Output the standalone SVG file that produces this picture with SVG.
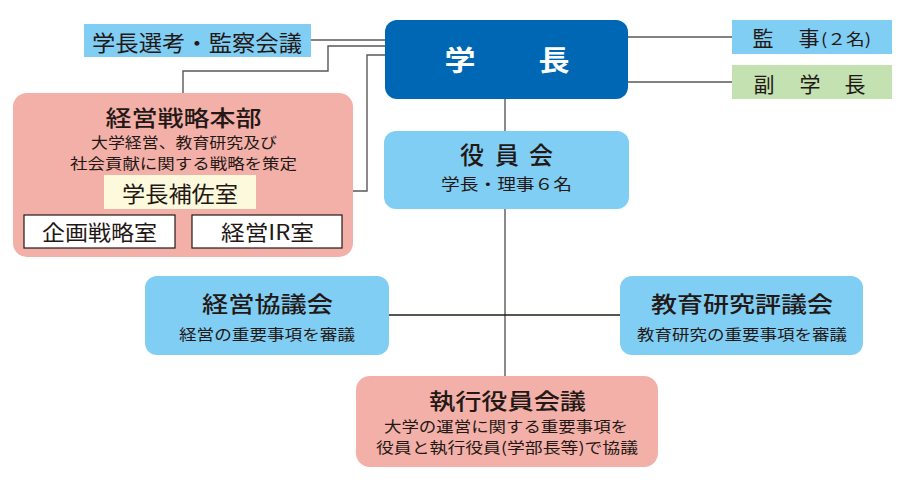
<svg xmlns="http://www.w3.org/2000/svg" width="918" height="486" viewBox="0 0 918 486">
<style>
text{font-family:"Noto Sans CJK JP","Noto Sans CJK SC",sans-serif;fill:#231815;text-anchor:middle}
.t{font-size:22px;font-weight:500}
.s{font-size:15px}
.c{fill:none;stroke:#5a5757;stroke-width:1.4}
.blue{fill:#80cef3}
.pink{fill:#f3b0a8}
.w{fill:#fff;font-size:28px;font-weight:700}
</style>
<g id="connectors">
<path class="c" d="M311,40 H385"/>
<path class="c" d="M385,46 H328 V71 H183 V93"/>
<path class="c" d="M385,55 H367 V191 H256"/>
<path class="c" d="M628,37 H732"/>
<path class="c" d="M628,82 H732"/>
<path class="c" d="M505,98 V376"/>
<path class="c" d="M389,315 H620" style="stroke:#231815"/>
</g>
<g id="president">
<rect x="385" y="20" width="243" height="79" rx="12" fill="#0067b5"/>
<text x="460" y="71" class="w" textLength="31" lengthAdjust="spacingAndGlyphs">学</text>
<text x="554" y="71" class="w" textLength="31" lengthAdjust="spacingAndGlyphs">長</text>
</g>
<g id="selection">
<rect x="84" y="24" width="227" height="33" class="blue"/>
<text x="197" y="51" style="font-size:22px" textLength="210" lengthAdjust="spacingAndGlyphs">学長選考・監察会議</text>
</g>
<g id="auditor">
<rect x="732" y="20" width="160" height="34" class="blue"/>
<text x="763" y="46" style="font-size:21px">監</text>
<text x="809" y="46" style="font-size:21px">事</text>
<text x="821" y="45" style="font-size:16px;text-anchor:start" textLength="50" lengthAdjust="spacingAndGlyphs">(２名)</text>
</g>
<g id="vice">
<rect x="732" y="65" width="160" height="34" fill="#c3e1b1"/>
<text x="764" y="92" style="font-size:21px">副</text>
<text x="810" y="92" style="font-size:21px">学</text>
<text x="855" y="92" style="font-size:21px">長</text>
</g>
<g id="strategy">
<rect x="13" y="93" width="340" height="164" rx="14" class="pink"/>
<text x="183.5" y="126" class="t" textLength="156" lengthAdjust="spacingAndGlyphs">経営戦略本部</text>
<text x="184" y="148" class="s" textLength="186" lengthAdjust="spacingAndGlyphs">大学経営、教育研究及び</text>
<text x="183.5" y="169" class="s" textLength="227" lengthAdjust="spacingAndGlyphs">社会貢献に関する戦略を策定</text>
<g id="assistant">
<rect x="104" y="175" width="152" height="34" fill="#fdf9dc"/>
<text x="180" y="202" style="font-size:22px" textLength="116" lengthAdjust="spacingAndGlyphs">学長補佐室</text>
</g>
<g id="planning">
<rect x="24" y="215" width="151" height="33" fill="#fff" stroke="#231815" stroke-width="1.2"/>
<text x="99.5" y="240" style="font-size:21px" textLength="115" lengthAdjust="spacingAndGlyphs">企画戦略室</text>
</g>
<g id="ir">
<rect x="192" y="215" width="150" height="33" fill="#fff" stroke="#231815" stroke-width="1.2"/>
<text x="267.5" y="240" style="font-size:21px" textLength="93" lengthAdjust="spacingAndGlyphs">経営IR室</text>
</g>
</g>
<g id="board">
<rect x="384" y="131" width="245" height="78" rx="12" class="blue"/>
<text x="472" y="164" class="t" style="font-size:24px">役</text>
<text x="507" y="164" class="t" style="font-size:24px">員</text>
<text x="541" y="164" class="t" style="font-size:24px">会</text>
<text x="506.5" y="190" style="font-size:16px" textLength="131" lengthAdjust="spacingAndGlyphs">学長・理事６名</text>
</g>
<g id="management">
<rect x="145" y="276" width="244" height="79" rx="12" class="blue"/>
<text x="267.5" y="312" class="t" textLength="131" lengthAdjust="spacingAndGlyphs">経営協議会</text>
<text x="267" y="340" class="s" textLength="176" lengthAdjust="spacingAndGlyphs">経営の重要事項を審議</text>
</g>
<g id="education">
<rect x="620" y="276" width="243" height="79" rx="12" class="blue"/>
<text x="742" y="312" class="t" textLength="182" lengthAdjust="spacingAndGlyphs">教育研究評議会</text>
<text x="742" y="340" class="s" textLength="210" lengthAdjust="spacingAndGlyphs">教育研究の重要事項を審議</text>
</g>
<g id="executive">
<rect x="356" y="376" width="302" height="91" rx="14" class="pink"/>
<text x="507.5" y="409" class="t" textLength="157" lengthAdjust="spacingAndGlyphs">執行役員会議</text>
<text x="506" y="432" class="s" textLength="244" lengthAdjust="spacingAndGlyphs">大学の運営に関する重要事項を</text>
<text x="507" y="453" class="s" textLength="262" lengthAdjust="spacingAndGlyphs">役員と執行役員(学部長等)で協議</text>
</g>
</svg>
